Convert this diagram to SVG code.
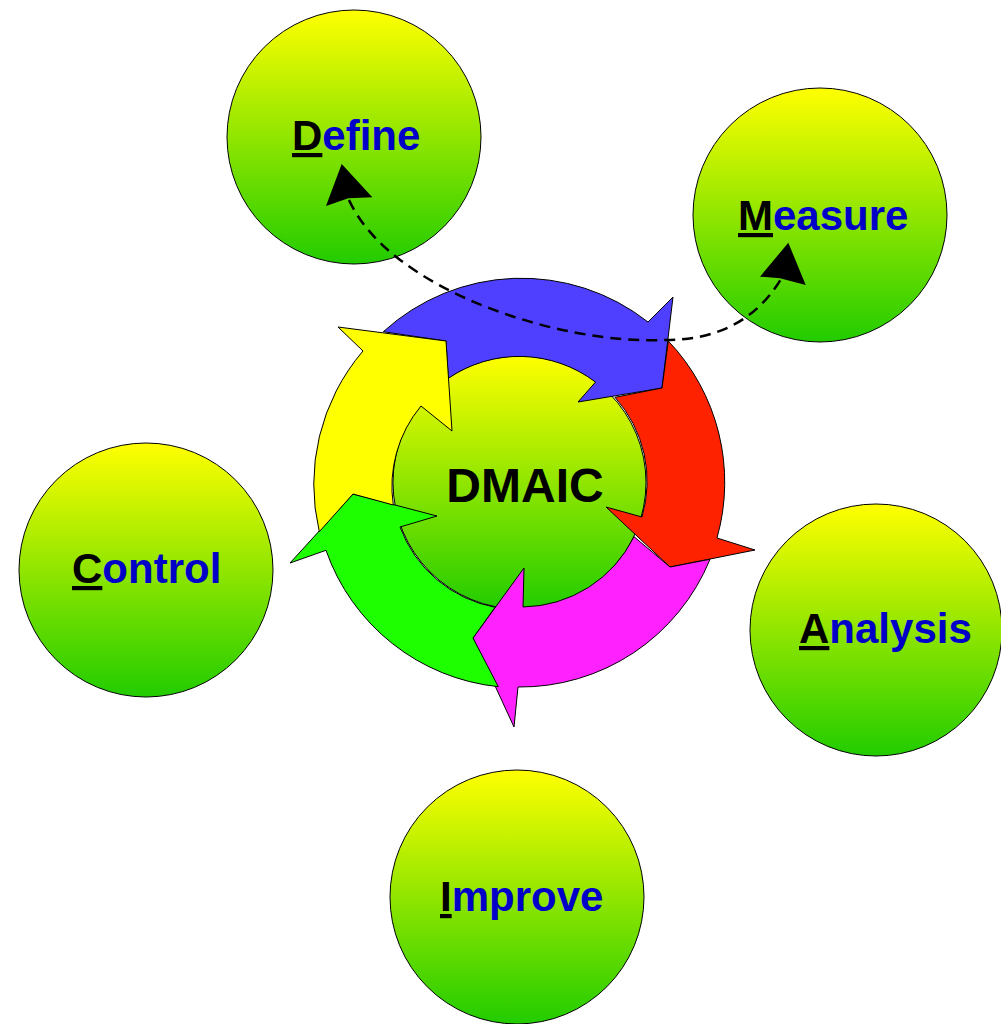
<svg xmlns="http://www.w3.org/2000/svg" width="1001" height="1024" viewBox="0 0 1001 1024">
<defs>
<linearGradient id="g" x1="0" y1="0" x2="0" y2="1">
<stop offset="0" stop-color="#ffff00"/>
<stop offset="1" stop-color="#22cc00"/>
</linearGradient>
<style>
.node{fill:url(#g);stroke:#000;stroke-width:1}
.lbl{font-family:"Liberation Sans",Arial,sans-serif;font-weight:bold;font-size:42px;fill:#0000c8}
.ini{fill:#000;text-decoration:underline}
.arr{stroke:#000;stroke-width:1;stroke-linejoin:miter}
.dash{fill:none;stroke:#000;stroke-width:2.5;stroke-dasharray:11 7}
.head{fill:#000}
</style>
</defs>
<rect width="1001" height="1024" fill="#fff"/>

<g id="define"><circle class="node" cx="354" cy="137" r="127"/><text class="lbl" x="292" y="150"><tspan class="ini">D</tspan>efine</text></g>
<g id="measure"><circle class="node" cx="820" cy="215" r="127"/><text class="lbl" x="738" y="230"><tspan class="ini">M</tspan>easure</text></g>
<g id="control"><circle class="node" cx="146" cy="570" r="127"/><text class="lbl" x="72" y="583"><tspan class="ini">C</tspan>ontrol</text></g>
<g id="analysis"><circle class="node" cx="876" cy="630" r="126"/><text class="lbl" x="799" y="643"><tspan class="ini">A</tspan>nalysis</text></g>
<g id="improve"><circle class="node" cx="517" cy="897" r="127"/><text class="lbl" x="440" y="911"><tspan class="ini">I</tspan>mprove</text></g>

<g id="dmaic">
<circle class="node" cx="519.5" cy="482.5" r="126.5"/>
<path class="arr" fill="#4f40ff" d="M383.3,331.7 A205,205 0 0 1 648,322 L673,297 L662,388 L578,402 L595.5,382.1 A126,126 0 0 0 448.3,378.3 L446,341 Z"/>
<path class="arr" fill="#ff2200" d="M668.3,341 A205,205 0 0 1 717,538 L755,550 L670,567 L606,507 L642,517 A126,126 0 0 0 615,397.3 L662,388 Z"/>
<path class="arr" fill="#ff22ff" d="M710,559.3 A205,205 0 0 1 518,687 L514,727 L473,638 L524,568 L523,607 A126,126 0 0 0 634,536.7 L670,567 Z"/>
<path class="arr" fill="#1eff00" d="M498.3,686.7 A205,205 0 0 1 326,550.3 L290,563 L353,494 L437,516 L400,527 A126,126 0 0 0 495,607.3 L473,638 Z"/>
<path class="arr" fill="#ffff00" d="M319.3,531.7 A205,205 0 0 1 363,351 L338,327 L446,341 L452,431 L421,406 A126,126 0 0 0 393.3,505 L353,494 Z"/>
<text x="525" y="502" text-anchor="middle" style="font-family:'Liberation Sans',Arial,sans-serif;font-weight:bold;font-size:48px;fill:#000">DMAIC</text>
</g>

<g id="connectors">
<path class="dash" d="M349,200 C390,290 560,345 665,340 C715,340 755,322 781,279"/>
<polygon class="head" points="341.7,164 372.3,197.3 348.3,198.3 326,206"/>
<polygon class="head" points="788.3,242.7 805.7,285 780,278.3 760,276.7"/>
</g>
</svg>
